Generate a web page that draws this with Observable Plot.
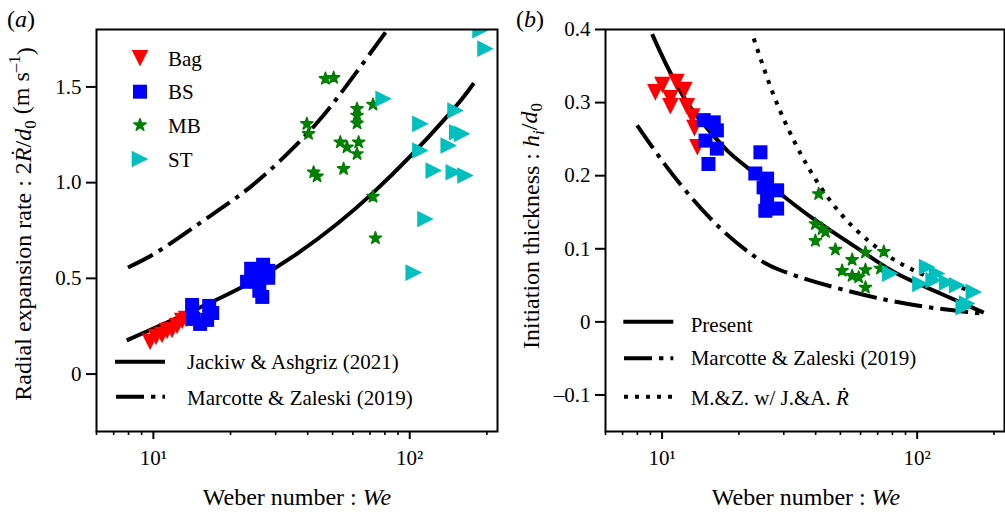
<!DOCTYPE html>
<html><head><meta charset="utf-8">
<script src="https://cdn.jsdelivr.net/npm/d3@7"></script>
<script src="https://cdn.jsdelivr.net/npm/@observablehq/plot@0.6"></script>
<style>
body{margin:0;background:#fff;}
#wrap{display:flex;width:1005px;height:515px;overflow:hidden;}
svg{display:block;}
</style></head><body><div id="wrap"></div>
<script>
// ---------- Panel (a): radial expansion rate ----------
const bagWeA = [9.71, 10.24, 10.81, 11.31, 11.83, 12.38, 12.95, 13.42];
const bagRA  = [0.168, 0.194, 0.204, 0.225, 0.230, 0.251, 0.277, 0.288];
const bsWeA  = [14.16, 16.51, 14.29, 16.21, 15.22, 16.96, 23.2, 24.07, 26.8, 28.05, 25.9, 26.6, 28.05, 24.96];
const bsRA   = [0.361, 0.356, 0.288, 0.283, 0.262, 0.319, 0.482, 0.550, 0.571, 0.503, 0.435, 0.403, 0.539, 0.503];
const mbWeA  = [39.7, 40.3, 42.2, 43.5, 46.9, 50.5, 53.6, 56.9, 55.2, 62.3, 62.3, 62.3, 63.2, 62.3, 71.9, 71.9, 73.5];
const mbRA   = [1.307, 1.255, 1.054, 1.033, 1.543, 1.548, 1.211, 1.185, 1.072, 1.386, 1.351, 1.310, 1.211, 1.150, 1.408, 0.927, 0.710];
const stWeA  = [79.1, 150.9, 110.1, 153.2, 160.2, 142, 110.1, 124.1, 148.6, 165, 115.2, 103.7, 197.6, 188.9];
const stRA   = [1.438, 1.377, 1.307, 1.263, 1.255, 1.194, 1.168, 1.063, 1.054, 1.037, 0.810, 0.530, 1.700, 1.796];
// Jackiw & Ashgriz (2021) curve
const jaWe = [7.87, 19.35, 36.3, 72.1, 140, 177.8];
const jaR  = [0.176, 0.414, 0.628, 0.948, 1.346, 1.520];
// Marcotte & Zaleski (2019) curve
const mzWeA = [7.96, 10.62, 15.64, 22.4, 31.25, 43.6, 58.7, 81.6];
const mzRA  = [0.557, 0.647, 0.801, 0.948, 1.115, 1.314, 1.534, 1.796];
const yTicksA = [0, 0.5, 1.0, 1.5];

// ---------- Panel (b): initiation thickness ----------
const bagWeB = [9.41, 10.03, 11.38, 10.78, 12.23, 10.78, 12.50, 13.14, 13.39, 13.75];
const bagHB  = [0.314, 0.324, 0.328, 0.306, 0.317, 0.295, 0.295, 0.281, 0.265, 0.239];
const bsWeB  = [14.56, 15.94, 16.4, 14.8, 16.4, 15.2, 24.3, 23.2, 25.8, 28.25, 25.0, 25.8, 28.25, 25.4];
const bsHB   = [0.276, 0.273, 0.262, 0.248, 0.237, 0.216, 0.232, 0.203, 0.196, 0.180, 0.184, 0.166, 0.155, 0.152];
const mbWeB  = [41.1, 39.9, 42.4, 43.7, 39.9, 47.8, 55.6, 62.7, 74.0, 50.8, 55.6, 59.0, 62.7, 62.7, 71.8];
const mbHB   = [0.175, 0.134, 0.127, 0.123, 0.111, 0.099, 0.085, 0.095, 0.096, 0.070, 0.063, 0.061, 0.071, 0.047, 0.073];
const stWeB  = [78.5, 109.4, 119.7, 103, 116, 131.1, 143.5, 166.8, 157, 152.3];
const stHB   = [0.066, 0.075, 0.066, 0.052, 0.057, 0.054, 0.050, 0.041, 0.025, 0.020];
// Present model
const prWe = [9.14, 10.46, 12.53, 15.02, 17.98, 21.54, 29.99, 40.53, 62.7, 83.5, 123.4, 182.4];
const prH  = [0.3936, 0.3497, 0.3004, 0.2648, 0.2347, 0.2114, 0.1717, 0.1374, 0.0933, 0.0659, 0.0388, 0.0127];
// Marcotte & Zaleski (2019)
const mzWeB = [7.98, 9.85, 12.53, 16.93, 22.2, 29.99, 54.7, 100, 182.4];
const mzHB  = [0.2689, 0.2237, 0.1771, 0.1278, 0.0936, 0.0689, 0.0415, 0.0223, 0.0110];
// M.&Z. with J.&A. R-dot
const mjWe = [22.87, 27.39, 32.82, 39.31, 50.03, 65.6, 86.0, 123.4, 177.1];
const mjH  = [0.3877, 0.3100, 0.2484, 0.1990, 0.1484, 0.1086, 0.0799, 0.0552, 0.0401];
const yTicksB = [-0.1, 0, 0.1, 0.2, 0.3, 0.4];

const xMajor = [10, 100];
const xMinor = [6, 7, 8, 9, 20, 30, 40, 50, 60, 70, 80, 90, 200];

// ---------- helpers ----------
const P = (xs, ys) => xs.map((x, i) => ({x, y: ys[i]}));
const mplTri = {draw(ctx, size) {const h = Math.sqrt(size / Math.PI); ctx.moveTo(0, -h); ctx.lineTo(h, h); ctx.lineTo(-h, h); ctx.closePath();}};
const mplSq = {draw(ctx, size) {const h = Math.sqrt(size / Math.PI); ctx.rect(-h, -h, 2 * h, 2 * h);}};
const RED = "#ff0000", BLUE = "#0000ff", GREEN = "#008000", CYAN = "#00bfbf";
const FONT = "Liberation Serif, Times New Roman, serif";
const TRI_R = 8.3, SQ_R = 7, STAR_R = 3.8;
const DASHDOT = "28,7,4.4,7", DOTTED = "4,7";
const LW = 4;

function styleSeries(kind) {
  if (kind === "bag") return {symbol: mplTri, rotate: 180, r: TRI_R, fill: RED};
  if (kind === "bs") return {symbol: mplSq, r: SQ_R, fill: BLUE};
  if (kind === "mb") return {symbol: "star", r: STAR_R, fill: GREEN, stroke: GREEN, strokeWidth: 1.6, strokeLinejoin: "round"};
  return {symbol: mplTri, rotate: 90, r: TRI_R, fill: CYAN};
}
function dots(xs, ys, kind) {
  return Plot.dot(P(xs, ys), {x: "x", y: "y", clip: true, ...styleSeries(kind)});
}
function curve(xs, ys, dash) {
  return Plot.line(P(xs, ys), {x: "x", y: "y", stroke: "black", strokeWidth: LW, curve: "natural",
    strokeLinecap: "butt", strokeDasharray: dash || null});
}
function axes(yTicks, yFmt) {
  return [
    Plot.axisY(yTicks, {tickSize: 10, tickPadding: 5, strokeWidth: 2, tickFormat: yFmt, label: null, fontSize: 21}),
    Plot.axisX(xMinor, {tickSize: 4, strokeWidth: 1.6, tickFormat: () => "", label: null}),
    Plot.axisX(xMajor, {tickSize: 8, strokeWidth: 2, tickPadding: 11, tickFormat: d => d === 10 ? "10\u00b9" : "10\u00b2", label: null, fontSize: 21}),
    Plot.frame({stroke: "black", strokeWidth: 2})
  ];
}
const styleBase = {fontFamily: FONT, fontSize: "21px", color: "black", background: "white", overflow: "visible"};

// ---------- Panel (a) ----------
const plotA = Plot.plot({
  width: 502, height: 515, marginLeft: 96, marginRight: 5, marginTop: 29, marginBottom: 84,
  style: styleBase,
  x: {type: "log", domain: [6, 220]},
  y: {domain: [-0.3, 1.8]},
  marks: [
    curve(jaWe, jaR),
    curve(mzWeA, mzRA, DASHDOT),
    dots(bagWeA, bagRA, "bag"),
    dots(bsWeA, bsRA, "bs"),
    dots(mbWeA, mbRA, "mb"),
    dots(stWeA, stRA, "st"),
    ...axes(yTicksA, d => d === 0 ? "0" : d.toFixed(1))
  ]
});

// ---------- Panel (b) ----------
const plotB = Plot.plot({
  width: 503, height: 515, marginLeft: 103, marginRight: 1, marginTop: 29, marginBottom: 84,
  style: styleBase,
  x: {type: "log", domain: [6, 220]},
  y: {domain: [-0.15, 0.4]},
  marks: [
    curve(prWe, prH),
    curve(mzWeB, mzHB, DASHDOT),
    curve(mjWe, mjH, DOTTED),
    dots(bagWeB, bagHB, "bag"),
    dots(bsWeB, bsHB, "bs"),
    dots(mbWeB, mbHB, "mb"),
    dots(stWeB, stHB, "st"),
    ...axes(yTicksB, d => Math.abs(d) < 1e-9 ? "0" : (d < 0 ? "\u2013" + Math.abs(d).toFixed(1) : d.toFixed(1)))
  ]
});

document.getElementById("wrap").append(plotA, plotB);

// ---------- annotations (labels & in-frame legends) ----------
function addText(svg, x, y, parts, opts = {}) {
  const t = svg.append("text").attr("x", x).attr("y", y)
    .attr("font-family", FONT).attr("font-size", opts.size || 21)
    .attr("fill", "black").attr("text-anchor", opts.anchor || "start");
  if (opts.rotate) t.attr("transform", `rotate(-90 ${x} ${y})`);
  for (const p of parts) {
    const s = typeof p === "string" ? {t: p} : p;
    const ts = t.append("tspan").text(s.t);
    if (s.i) ts.attr("font-style", "italic");
    if (s.dy) ts.attr("dy", s.dy);
    if (s.fs) ts.attr("font-size", s.fs);
  }
  return t;
}
function legendSymbol(g, kind, x, y) {
  const st = styleSeries(kind);
  const size = Math.PI * st.r * st.r;
  const type = st.symbol === "star" ? d3.symbolStar : st.symbol;
  g.append("path").attr("d", d3.symbol(type, size)())
    .attr("transform", `translate(${x},${y}) rotate(${st.rotate || 0})`)
    .attr("fill", st.fill).attr("stroke", st.stroke || "none")
    .attr("stroke-width", st.strokeWidth || 0).attr("stroke-linejoin", "round");
}
function legendLine(g, x1, x2, y, dash) {
  g.append("line").attr("x1", x1).attr("x2", x2).attr("y1", y).attr("y2", y)
    .attr("stroke", "black").attr("stroke-width", LW).attr("stroke-dasharray", dash || null);
}

const sA = d3.select(plotA);
addText(sA, 7, 27, ["(", {t: "a", i: true}, ")"], {size: 24});
addText(sA, 31, 224, [
  "Radial expansion rate : 2", {t: "R\u0307", i: true}, "/", {t: "d", i: true},
  {t: "0", dy: "0.3em", fs: 17}, {t: " (m s", dy: "-0.3em"}, {t: "\u20131", dy: "-0.55em", fs: 17}, {t: ")", dy: "0.55em"}
], {size: 24, anchor: "middle", rotate: true});
addText(sA, 297, 505, ["Weber number : ", {t: "We", i: true}], {size: 24, anchor: "middle"});
const gA = sA.append("g");
[["bag", "Bag", 58.3], ["bs", "BS", 91.7], ["mb", "MB", 125], ["st", "ST", 159]].forEach(([k, lab, y]) => {
  legendSymbol(gA, k, 140, y);
  addText(sA, 168, y + 7.5, [lab]);
});
legendLine(gA, 115, 165, 361.7);
addText(sA, 187, 369, ["Jackiw & Ashgriz (2021)"]);
legendLine(gA, 116, 165, 396.7, DASHDOT);
addText(sA, 187, 405, ["Marcotte & Zaleski (2019)"]);

const sB = d3.select(plotB);
addText(sB, 14, 27, ["(", {t: "b", i: true}, ")"], {size: 24});
addText(sB, 37, 226, [
  "Initiation thickness : ", {t: "h", i: true}, {t: "i", i: true, dy: "0.3em", fs: 17},
  {t: "/", dy: "-0.3em"}, {t: "d", i: true}, {t: "0", dy: "0.3em", fs: 17}
], {size: 24, anchor: "middle", rotate: true});
addText(sB, 304, 505, ["Weber number : ", {t: "We", i: true}], {size: 24, anchor: "middle"});
const gB = sB.append("g");
legendLine(gB, 121.3, 171.3, 321.7);
addText(sB, 188.7, 331.5, ["Present"]);
legendLine(gB, 122, 171.3, 358.3, DASHDOT);
addText(sB, 188.7, 365, ["Marcotte & Zaleski (2019)"]);
legendLine(gB, 122, 171.3, 396.7, DOTTED);
addText(sB, 188.7, 405, ["M.&Z. w/ J.&A. ", {t: "R\u0307", i: true}]);
</script>
</body></html>
